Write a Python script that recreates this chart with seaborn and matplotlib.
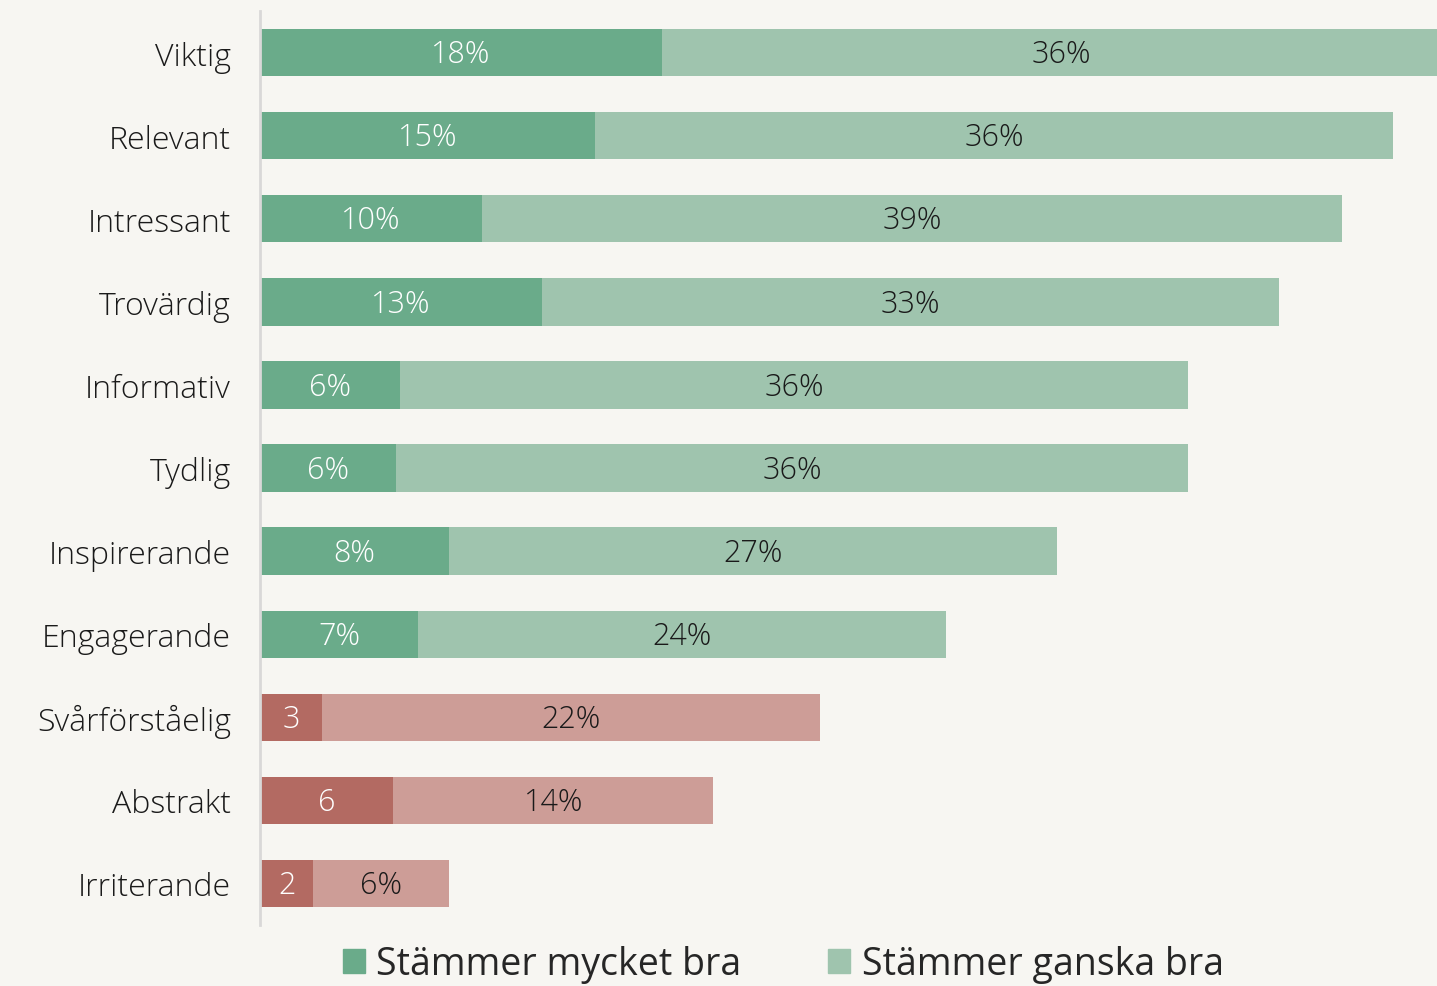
import pandas as pd
import seaborn as sns
import matplotlib.pyplot as plt
from matplotlib.patches import Patch

categories = ['Viktig', 'Relevant', 'Intressant', 'Trovärdig', 'Informativ', 'Tydlig',
              'Inspirerande', 'Engagerande', 'Svårförståelig', 'Abstrakt', 'Irriterande']
very_well = [18.1, 15.1, 10.0, 12.7, 6.3, 6.1, 8.5, 7.1, 2.8, 6.0, 2.4]
fairly_well = [36.0, 35.9, 38.7, 33.2, 35.5, 35.7, 27.4, 23.8, 22.4, 14.4, 6.1]
very_labels = ['18%', '15%', '10%', '13%', '6%', '6%', '8%', '7%', '3', '6', '2']
fairly_labels = ['36%', '36%', '39%', '33%', '36%', '36%', '27%', '24%', '22%', '14%', '6%']
negative = ['Svårförståelig', 'Abstrakt', 'Irriterande']

df = pd.DataFrame({'cat': categories, 'very': very_well, 'fairly': fairly_well})
df['total'] = df['very'] + df['fairly']

bg = '#f7f6f2'
dark_green, light_green = '#6aab8a', '#9fc4ae'
dark_red, light_red = '#b36a62', '#cd9d97'
dark_pal = {c: (dark_red if c in negative else dark_green) for c in categories}
light_pal = {c: (light_red if c in negative else light_green) for c in categories}

sns.set_style('white')
plt.rcParams['font.family'] = ['Open Sans', 'DejaVu Sans']

fig = plt.figure(figsize=(14.37, 9.87), dpi=100, facecolor=bg)
ax = fig.add_axes([0.181, 0.0618, 0.819, 0.926])
ax.set_facecolor(bg)

sns.barplot(data=df, y='cat', x='total', hue='cat', palette=light_pal, legend=False,
            width=0.57, orient='h', ax=ax, saturation=1, linewidth=0)
sns.barplot(data=df, y='cat', x='very', hue='cat', palette=dark_pal, legend=False,
            width=0.57, orient='h', ax=ax, saturation=1, linewidth=0)

for i, row in df.iterrows():
    ax.text(row['very'] / 2, i + 0.02, very_labels[i], ha='center', va='center',
            color='white', fontsize=22, fontweight='light')
    ax.text(row['very'] + row['fairly'] / 2, i + 0.02, fairly_labels[i], ha='center',
            va='center', color='#1a1a1a', fontsize=22, fontweight='light')

ax.set_xlim(0, 53.0)
ax.set_ylim(10.5, -0.5)
ax.set_xlabel('')
ax.set_ylabel('')
ax.set_xticks([])
ax.tick_params(axis='y', length=0, pad=21, labelsize=23, labelcolor='#1a1a1a')
for lbl in ax.get_yticklabels():
    lbl.set_fontweight('light')
for side in ['top', 'right', 'bottom']:
    ax.spines[side].set_visible(False)
ax.spines['left'].set_color('#d9d8d8')
ax.spines['left'].set_linewidth(2)

handles = [Patch(color=dark_green, label='Stämmer mycket bra'),
           Patch(color=light_green, label='Stämmer ganska bra')]
fig.legend(handles=handles, loc='center', bbox_to_anchor=(0.545, 0.022), ncol=2,
           frameon=False, fontsize=27, handlelength=0.6, handleheight=0.6,
           handletextpad=0.3, columnspacing=2.3)

fig.savefig('out.png', dpi=100, facecolor=bg)
